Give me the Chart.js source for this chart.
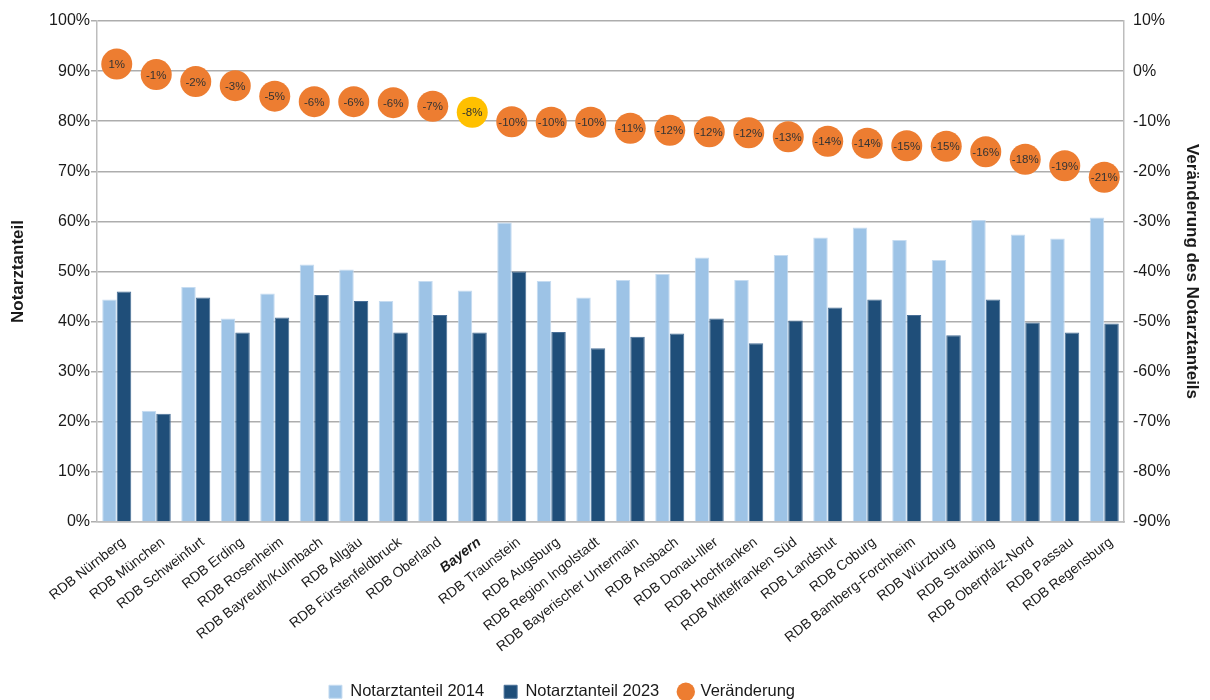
<!DOCTYPE html>
<html>
<head>
<meta charset="utf-8">
<script src="https://cdn.jsdelivr.net/npm/chart.js@4"></script>
<style>
html,body{margin:0;padding:0;background:#fff;}
#wrap{width:1210px;height:700px;position:relative;}
</style>
</head>
<body>
<div id="wrap"><canvas id="c" width="1210" height="700"></canvas></div>
<script>
const categories = ["RDB Nürnberg","RDB München","RDB Schweinfurt","RDB Erding","RDB Rosenheim","RDB Bayreuth/Kulmbach","RDB Allgäu","RDB Fürstenfeldbruck","RDB Oberland","Bayern","RDB Traunstein","RDB Augsburg","RDB Region Ingolstadt","RDB Bayerischer Untermain","RDB Ansbach","RDB Donau-Iller","RDB Hochfranken","RDB Mittelfranken Süd","RDB Landshut","RDB Coburg","RDB Bamberg-Forchheim","RDB Würzburg","RDB Straubing","RDB Oberpfalz-Nord","RDB Passau","RDB Regensburg"];
const anteil2014 = [44.4,22.2,46.9,40.6,45.6,51.4,50.4,44.1,48.1,46.2,59.8,48.1,44.8,48.3,49.5,52.8,48.3,53.3,56.8,58.8,56.3,52.3,60.3,57.4,56.6,60.8];
const anteil2023 = [46.0,21.6,44.8,37.8,40.8,45.3,44.1,37.8,41.3,37.8,50.0,37.9,34.7,37.0,37.6,40.6,35.7,40.2,42.8,44.4,41.3,37.3,44.4,39.8,37.8,39.6];
const veraenderung = [1.4,-0.7,-2.1,-2.9,-5.0,-6.1,-6.1,-6.3,-7.0,-8.2,-10.1,-10.2,-10.2,-11.4,-11.8,-12.1,-12.3,-13.1,-14.0,-14.4,-14.9,-15.0,-16.1,-17.6,-18.9,-21.2];
const leftTicks = [0,10,20,30,40,50,60,70,80,90,100];
const rightTicks = [-90,-80,-70,-60,-50,-40,-30,-20,-10,0,10];
const highlightIndex = categories.indexOf("Bayern");

const FONT = "'Liberation Sans', Arial, sans-serif";
Chart.defaults.font.family = FONT;
Chart.defaults.color = '#1a1a1a';

const PAD_BOTTOM = -10;
const LEGEND_SHIFT = -43;

const pointLabels = {
  id: 'pointLabels',
  afterDatasetsDraw(chart) {
    const meta = chart.getDatasetMeta(2);
    const ctx = chart.ctx;
    ctx.save();
    ctx.font = "11.5px " + FONT;
    ctx.fillStyle = '#333333';
    ctx.textAlign = 'center';
    ctx.textBaseline = 'middle';
    meta.data.forEach((pt, i) => {
      const v = Math.round(veraenderung[i]);
      ctx.fillText(v + '%', pt.x, pt.y + 1);
    });
    ctx.restore();
  }
};

const legendShift = {
  id: 'legendShift',
  afterLayout(chart) {
    if (chart.legend) {
      chart.legend.left += LEGEND_SHIFT;
      chart.legend.right += LEGEND_SHIFT;
    }
  }
};

new Chart(document.getElementById('c'), {
  type: 'bar',
  data: {
    labels: categories,
    datasets: [
      {
        label: 'Notarztanteil 2014',
        data: anteil2014,
        backgroundColor: '#9DC3E6',
        borderColor: '#C6DCF1',
        borderWidth: 1,
        yAxisID: 'y',
        order: 2,
        pointStyle: 'rect'
      },
      {
        label: 'Notarztanteil 2023',
        data: anteil2023,
        backgroundColor: '#1F4E79',
        borderColor: '#4A7098',
        borderWidth: 1,
        yAxisID: 'y',
        order: 2,
        pointStyle: 'rect'
      },
      {
        type: 'line',
        label: 'Veränderung',
        data: veraenderung,
        showLine: false,
        yAxisID: 'y1',
        order: 1,
        pointRadius: 15.5,
        pointHoverRadius: 15.5,
        pointBorderWidth: 0,
        pointBackgroundColor: veraenderung.map((v, i) => i === highlightIndex ? '#FFC000' : '#ED7D31'),
        backgroundColor: '#ED7D31',
        borderColor: '#ED7D31',
        pointStyle: 'circle'
      }
    ]
  },
  options: {
    responsive: false,
    animation: false,
    events: [],
    layout: { padding: { top: 21, left: 0, right: 0, bottom: PAD_BOTTOM } },
    datasets: { bar: { barPercentage: 1.0, categoryPercentage: 0.735 } },
    plugins: {
      tooltip: { enabled: false },
      legend: {
        position: 'bottom',
        labels: {
          usePointStyle: true,
          boxWidth: 13,
          boxHeight: 13,
          padding: 20,
          font: { size: 16.5 },
          color: '#1a1a1a',
          sort: (a, b) => a.datasetIndex - b.datasetIndex
        }
      }
    },
    scales: {
      x: {
        grid: { display: false },
        border: { display: true, color: '#BDBDBD', width: 1.5 },
        ticks: {
          autoSkip: false,
          maxRotation: 38,
          minRotation: 38,
          padding: 4,
          labelOffset: 7,
          color: '#1a1a1a',
          font: (ctx) => ctx.index === highlightIndex ? { size: 14, style: 'italic', weight: 'bold' } : { size: 14 }
        },
        afterFit(scale) {
          const lh = scale.chart.legend ? scale.chart.legend.height : 40;
          scale.height = 700 - PAD_BOTTOM - lh - 522;
        }
      },
      y: {
        position: 'left',
        min: 0, max: 100,
        afterBuildTicks(scale) { scale.ticks = leftTicks.map(v => ({ value: v })); },
        ticks: { callback: v => v + '%', font: { size: 16 }, padding: 1, color: '#1a1a1a' },
        grid: { color: '#ADADAD', lineWidth: 1.5, drawTicks: true, tickLength: 6, tickColor: '#ADADAD' },
        border: { display: true, color: '#BDBDBD', width: 1.5 },
        title: { display: true, text: 'Notarztanteil', font: { size: 17, weight: 'bold' }, color: '#1a1a1a', padding: { top: 8, bottom: 4 } },
        afterFit(scale) { scale.width = 97; }
      },
      y1: {
        position: 'right',
        min: -90, max: 10,
        afterBuildTicks(scale) { scale.ticks = rightTicks.map(v => ({ value: v })); },
        ticks: { callback: v => v + '%', font: { size: 16 }, padding: 1, color: '#1a1a1a' },
        grid: { display: false, drawOnChartArea: false },
        border: { display: true, color: '#BDBDBD', width: 1.5 },
        title: { display: true, text: 'Veränderung des Notarztanteils', font: { size: 17, weight: 'bold' }, color: '#1a1a1a', padding: { top: 8, bottom: 4 } },
        afterFit(scale) { scale.width = 86; }
      }
    }
  },
  plugins: [pointLabels, legendShift]
});
</script>
</body>
</html>
